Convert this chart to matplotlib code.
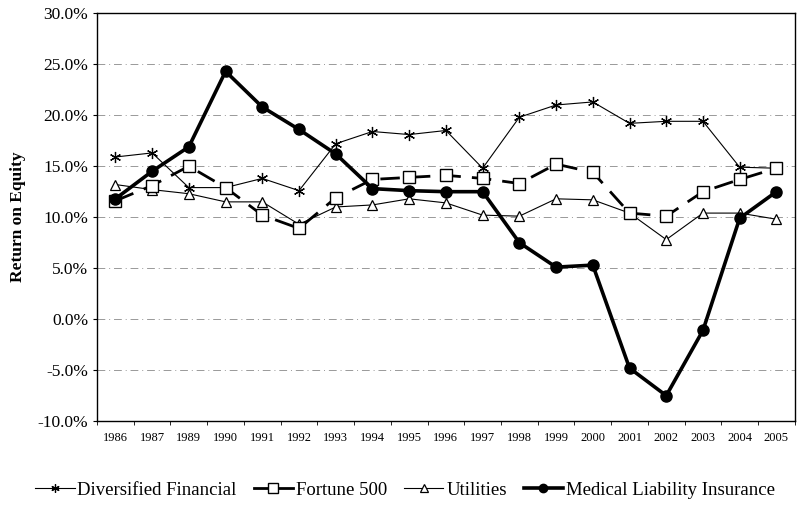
import matplotlib
matplotlib.use('Agg')
import matplotlib.pyplot as plt
from matplotlib.ticker import FuncFormatter, FixedLocator
import numpy as np

plt.rcParams['font.family'] = ['Liberation Serif', 'DejaVu Serif']

years = ['1986', '1987', '1989', '1990', '1991', '1992', '1993', '1994', '1995', '1996',
         '1997', '1998', '1999', '2000', '2001', '2002', '2003', '2004', '2005']

diversified = [15.9, 16.3, 12.9, 12.9, 13.8, 12.6, 17.2, 18.4, 18.1, 18.5,
               14.8, 19.8, 21.0, 21.3, 19.2, 19.4, 19.4, 14.9, 14.8]
fortune500 = [11.6, 13.1, 15.0, 12.9, 10.2, 8.9, 11.9, 13.7, 13.9, 14.1,
              13.8, 13.3, 15.2, 14.4, 10.4, 10.1, 12.5, 13.7, 14.8]
utilities = [13.2, 12.7, 12.3, 11.5, 11.5, 9.3, 11.0, 11.2, 11.8, 11.4,
             10.2, 10.1, 11.8, 11.7, 10.4, 7.8, 10.4, 10.4, 9.8]
medical = [11.8, 14.5, 16.9, 24.3, 20.8, 18.6, 16.2, 12.8, 12.6, 12.5,
           12.5, 7.5, 5.1, 5.3, -4.8, -7.5, -1.1, 9.9, 12.5]

x = np.arange(len(years))

fig = plt.figure(figsize=(8.02, 5.08), dpi=100)
ax = fig.add_axes([0.121, 0.171, 0.870, 0.803])

ax.plot(x, diversified, color='black', lw=0.8, marker=(6, 2, 0), ms=8, mew=0.9,
        label='Diversified Financial', zorder=3)
ax.plot(x, fortune500, color='black', lw=2.0, dashes=(7, 4), marker='s', ms=9,
        mfc='white', mec='black', mew=1.0, label='Fortune 500', zorder=4)
ax.plot(x, utilities, color='black', lw=0.8, marker='^', ms=7, mfc='white',
        mec='black', mew=0.9, label='Utilities', zorder=3)
ax.plot(x, medical, color='black', lw=2.6, marker='o', ms=8, label='Medical Liability Insurance',
        zorder=5)

ax.set_xlim(-0.5, len(years) - 0.5)
ax.set_ylim(-10, 30)
ax.set_yticks(np.arange(-10, 31, 5))
ax.yaxis.set_major_formatter(FuncFormatter(lambda v, p: '%.1f%%' % v))
ax.set_xticks(x)
ax.set_xticklabels(years, fontsize=9)
ax.xaxis.set_minor_locator(FixedLocator(np.arange(-0.5, len(years), 1)))
ax.tick_params(axis='x', which='major', length=0, pad=8)
ax.tick_params(axis='x', which='minor', length=3)
ax.tick_params(axis='y', labelsize=12.5, length=3)

ax.grid(axis='y', color='#999999', lw=0.7, ls=(0, (8, 4, 1, 4)))
for s in ax.spines.values():
    s.set_linewidth(1.0)

ax.set_ylabel('Return on Equity', fontsize=12.5, fontweight='bold', labelpad=8)

leg = fig.legend(loc='center', bbox_to_anchor=(0.505, 0.035), ncol=4, frameon=False,
                 fontsize=13.5, handlelength=2.1, handletextpad=0.15, columnspacing=0.9,
                 markerscale=0.75)
# dashed handle looks broken at legend size, draw it solid there
leg.get_lines()[1].set_linestyle('-')

fig.savefig('out.png', dpi=100)
